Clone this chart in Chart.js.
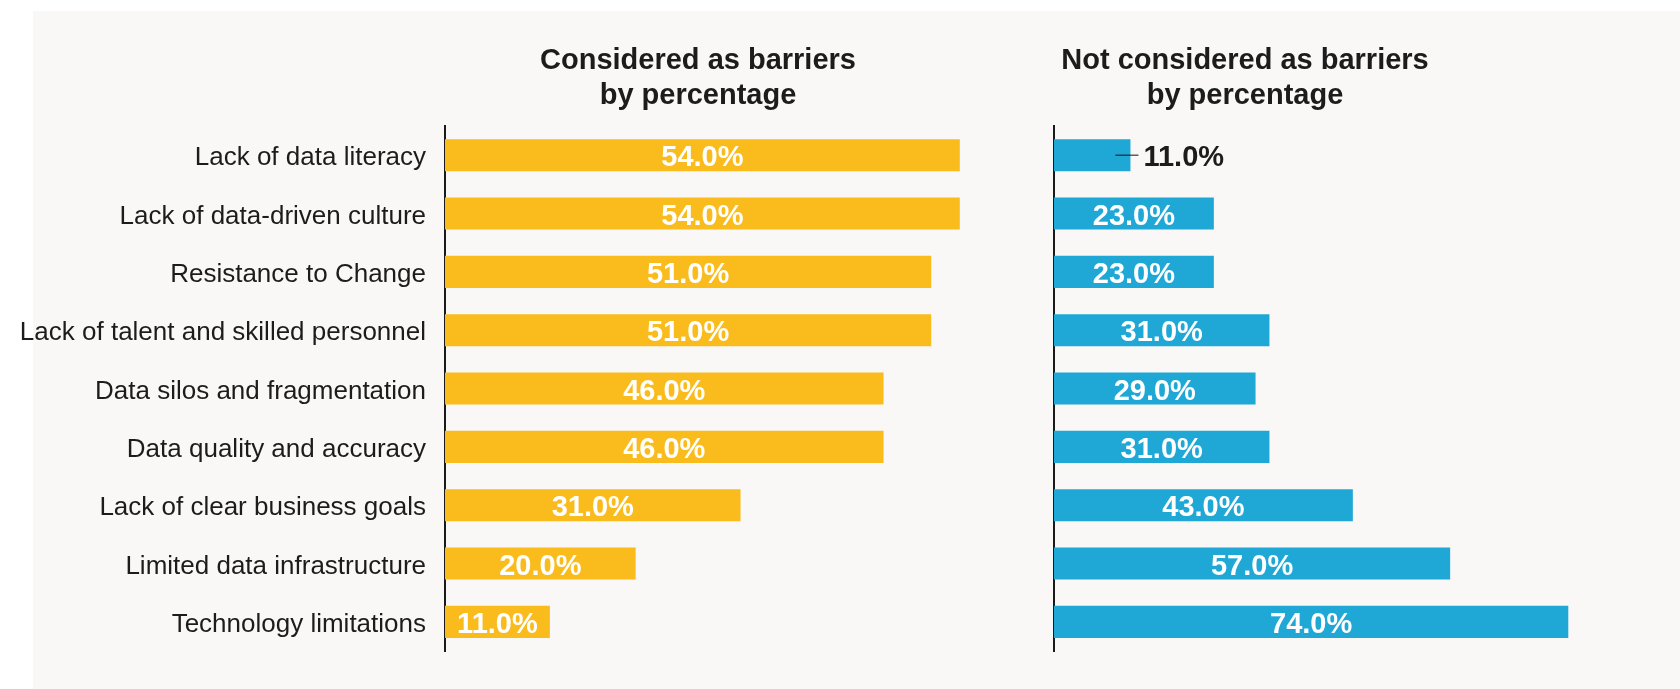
<!DOCTYPE html>
<html>
<head>
<meta charset="utf-8">
<script src="https://cdn.jsdelivr.net/npm/chart.js@4.4.1/dist/chart.umd.min.js"></script>
<style>
    body { margin: 0; background: #ffffff; }
    #wrap { position: relative; width: 1680px; height: 689px; overflow: hidden; }
    #panel { position: absolute; left: 33px; top: 11px; right: 0; bottom: 0; background: #f9f8f6; }
    #left { position: absolute; left: 0; top: 0; }
    #right { position: absolute; left: 1040px; top: 0; }
</style>
</head>
<body>
<div id="wrap">
    <div id="panel"></div>
    <canvas id="left" width="1040" height="689"></canvas>
    <canvas id="right" width="640" height="689"></canvas>
</div>
<script>
// categories (top to bottom)
var categories = [
    'Lack of data literacy',
    'Lack of data-driven culture',
    'Resistance to Change',
    'Lack of talent and skilled personnel',
    'Data silos and fragmentation',
    'Data quality and accuracy',
    'Lack of clear business goals',
    'Limited data infrastructure',
    'Technology limitations'
];
var considered = [54, 54, 51, 51, 46, 46, 31, 20, 11];
var notConsidered = [11, 23, 23, 31, 29, 31, 43, 57, 74];

var leftTitle = ['Considered as barriers', 'by percentage'];
var rightTitle = ['Not considered as barriers', 'by percentage'];

var FONT = "'Liberation Sans', Arial, Helvetica, sans-serif";
var DARK = '#1c1c1c';

// value labels inside bar, or outside with a little leader line if too short
var barLabels = {
    id: 'barLabels',
    afterDatasetsDraw: function(chart) {
        var ctx = chart.ctx;
        var meta = chart.getDatasetMeta(0);
        var values = chart.data.datasets[0].data;
        ctx.save();
        ctx.font = 'bold 29px ' + FONT;
        ctx.textBaseline = 'middle';
        meta.data.forEach(function(bar, i) {
            var text = values[i].toFixed(1) + '%';
            var w = ctx.measureText(text).width;
            var len = bar.x - bar.base;
            if (w + 8 < len) {
                ctx.fillStyle = '#ffffff';
                ctx.textAlign = 'center';
                ctx.fillText(text, (bar.x + bar.base) / 2, bar.y + 3);
            } else {
                ctx.strokeStyle = '#111';
                ctx.lineWidth = 1;
                ctx.beginPath();
                ctx.moveTo(bar.x - 15, bar.y);
                ctx.lineTo(bar.x + 8, bar.y);
                ctx.stroke();
                ctx.fillStyle = DARK;
                ctx.textAlign = 'left';
                ctx.fillText(text, bar.x + 13, bar.y + 3);
            }
        });
        ctx.restore();
    }
};

var sideTitle = {
    id: 'sideTitle',
    afterDraw: function(chart, args, opts) {
        var ctx = chart.ctx;
        ctx.save();
        ctx.font = 'bold 29px ' + FONT;
        ctx.fillStyle = DARK;
        ctx.textAlign = 'center';
        ctx.textBaseline = 'middle';
        opts.lines.forEach(function(line, i) {
            ctx.fillText(line, opts.x, opts.y + i * 35);
        });
        ctx.restore();
    }
};

function makeChart(id, values, color, max, yWidth, showLabels, padRight, title, titleX) {
    return new Chart(document.getElementById(id).getContext('2d'), {
        type: 'bar',
        data: {
            labels: categories,
            datasets: [{
                data: values,
                backgroundColor: color,
                borderWidth: 0,
                categoryPercentage: 1,
                barPercentage: 0.55
            }]
        },
        options: {
            indexAxis: 'y',
            responsive: false,
            animation: false,
            layout: { padding: { top: 126, bottom: 38, left: 0, right: padRight } },
            plugins: {
                legend: { display: false },
                tooltip: { enabled: false },
                sideTitle: { lines: title, x: titleX, y: 61 }
            },
            scales: {
                x: { display: false, min: 0, max: max },
                y: {
                    afterFit: function(scale) { scale.width = yWidth; },
                    grid: { display: false, drawTicks: false },
                    border: { display: true, color: '#1a1a1a', width: 2 },
                    ticks: {
                        display: showLabels,
                        padding: 19,
                        labelOffset: 3,
                        color: DARK,
                        font: { family: FONT, size: 26 }
                    }
                }
            }
        },
        plugins: [barLabels, sideTitle]
    });
}

makeChart('left', considered, '#fabb1d', 60, 445, true, 23, leftTitle, 698);
makeChart('right', notConsidered, '#1fa8d6', 80, 14, false, 70, rightTitle, 205);
</script>
</body>
</html>
